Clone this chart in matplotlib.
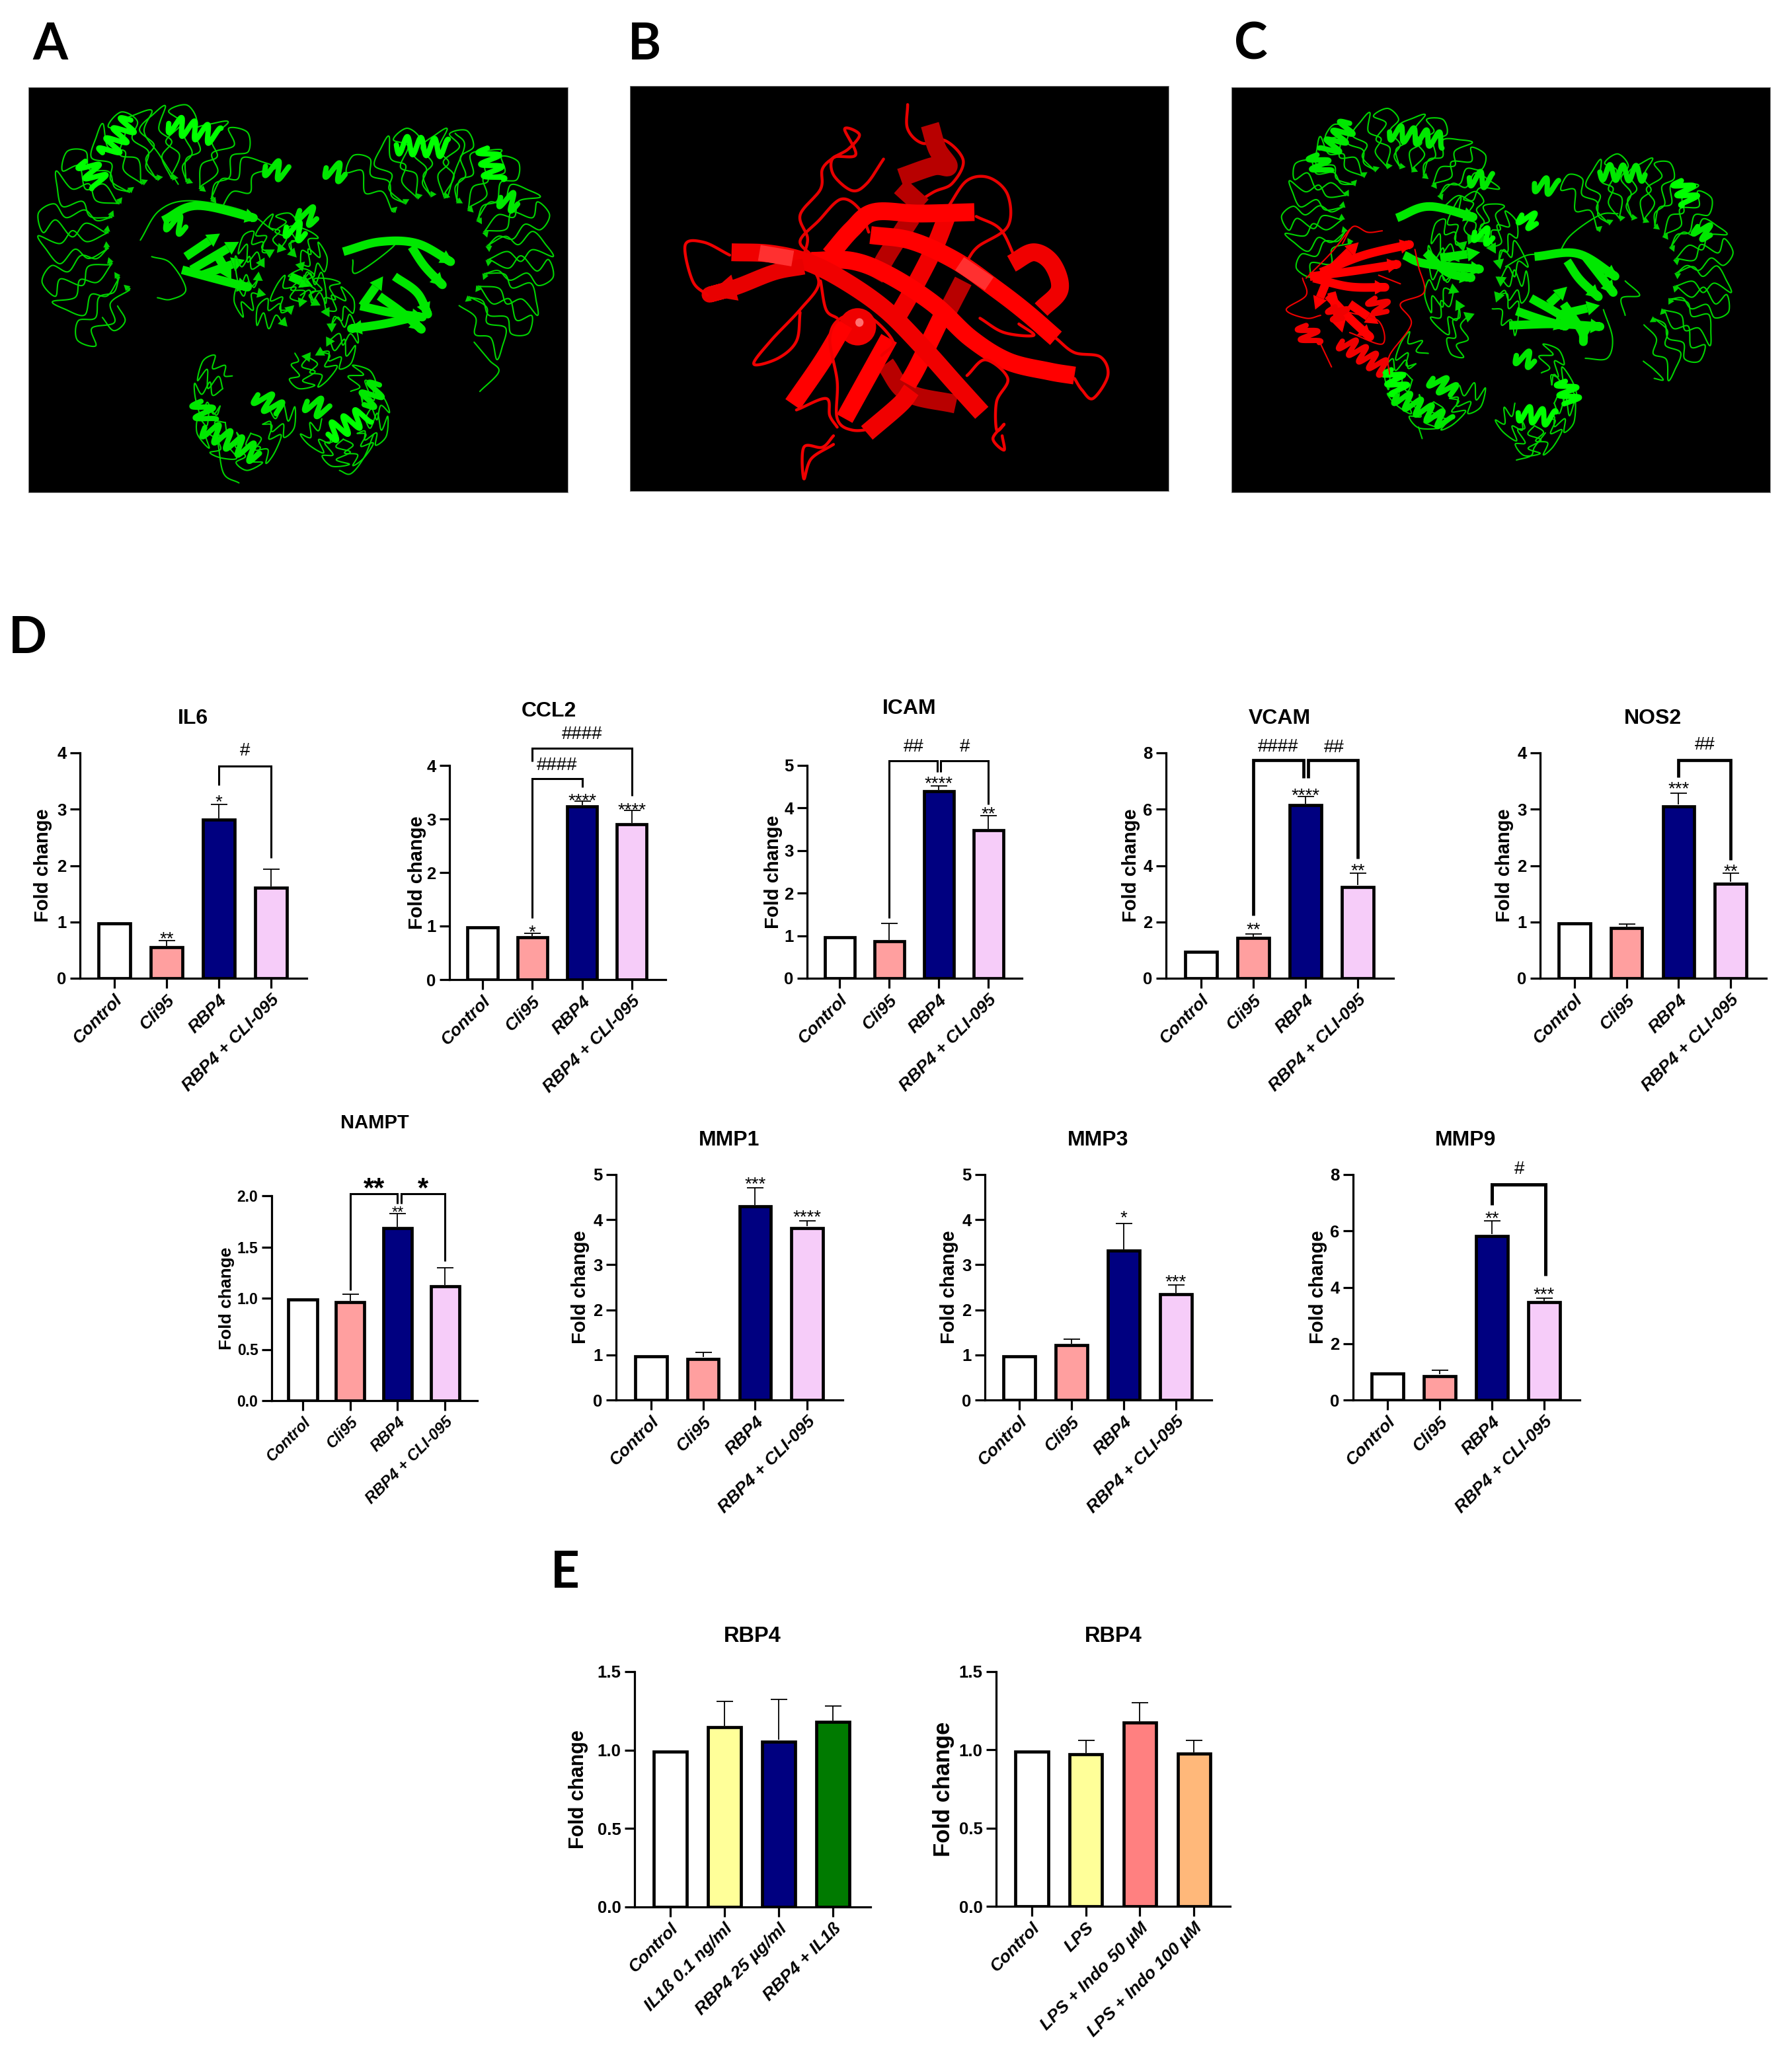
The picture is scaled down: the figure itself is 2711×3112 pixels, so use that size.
import matplotlib
matplotlib.use('Agg')
import matplotlib.pyplot as plt
import numpy as np
from matplotlib.patches import Ellipse, Polygon

plt.rcParams['font.family'] = ['Liberation Sans', 'DejaVu Sans']

W, H = 2711, 3112
PX = 0.72  # one pixel in points at dpi 100

# ---------- chart data ----------
d_groups = ['Control', 'Cli95', 'RBP4', 'RBP4 + CLI-095']
e1_groups = ['Control', 'IL1ß 0.1 ng/ml', 'RBP4 25 µg/ml', 'RBP4 + IL1ß']
e2_groups = ['Control', 'LPS', 'LPS + Indo 50 µM', 'LPS + Indo 100 µM']

d_colors = ['white', '#FF9F9F', '#000080', '#F6CCF9']
e1_colors = ['white', '#FFFF99', '#000080', '#007A00']
e2_colors = ['white', '#FFFF99', '#FF8080', '#FFB87A']

il6_values = [1, 0.58, 2.84, 1.63]
il6_err = [0, 0.09, 0.25, 0.30]
ccl2_values = [1, 0.82, 3.26, 2.93]
ccl2_err = [0, 0.05, 0.07, 0.225]
icam_values = [1, 0.90, 4.43, 3.51]
icam_err = [0, 0.385, 0.09, 0.31]
vcam_values = [1, 1.48, 6.19, 3.30]
vcam_err = [0, 0.10, 0.27, 0.43]
nos2_values = [1, 0.915, 3.08, 1.71]
nos2_err = [0, 0.05, 0.21, 0.15]
nampt_values = [1, 0.975, 1.70, 1.13]
nampt_err = [0, 0.065, 0.125, 0.17]
mmp1_values = [1, 0.95, 4.33, 3.85]
mmp1_err = [0, 0.10, 0.38, 0.13]
mmp3_values = [1, 1.25, 3.35, 2.38]
mmp3_err = [0, 0.10, 0.57, 0.165]
mmp9_values = [1, 0.91, 5.88, 3.53]
mmp9_err = [0, 0.15, 0.48, 0.09]
rbp4a_values = [1, 1.155, 1.065, 1.19]
rbp4a_err = [0, 0.155, 0.26, 0.09]
rbp4b_values = [1, 0.98, 1.185, 0.985]
rbp4b_err = [0, 0.08, 0.115, 0.075]

# significance marks above bars: x, y, text
il6_stars = [(1, 0.79, '**'), (2, 3.22, '*')]
ccl2_stars = [(1, 0.98, '*'), (2, 3.44, '****'), (3, 3.27, '****')]
icam_stars = [(2, 4.70, '****'), (3, 3.98, '**')]
vcam_stars = [(1, 1.91, '**'), (2, 6.68, '****'), (3, 4.01, '**')]
nos2_stars = [(2, 3.46, '***'), (3, 1.99, '**')]
nampt_stars = [(2.01, 1.877, '**')]
mmp1_stars = [(2, 4.90, '***'), (3, 4.17, '****')]
mmp3_stars = [(2, 4.16, '*'), (3, 2.74, '***')]
mmp9_stars = [(2, 6.64, '**'), (3, 3.93, '***')]

# brackets: x1, x2, top, left end, right end, label, label x, label y
il6_brackets = [(2, 3, 3.765, 3.42, 2.13, '#', 2.5, 4.07)]
ccl2_brackets = [(1, 2, 3.75, 1.15, 3.59, '####', 1.5, 4.04),
                 (1, 3, 4.32, 4.07, 3.43, '####', 2.0, 4.62)]
icam_brackets = [(1, 1.97, 5.11, 1.41, 4.85, '##', 1.5, 5.48),
                 (2.04, 3, 5.11, 4.85, 4.09, '#', 2.53, 5.48)]
vcam_brackets = [(1, 1.96, 7.75, 2.22, 7.11, '####', 1.47, 8.28),
                 (2.05, 3, 7.75, 7.11, 4.25, '##', 2.55, 8.25)]
nos2_brackets = [(2, 3, 3.87, 3.57, 2.10, '##', 2.5, 4.18)]
nampt_brackets = [(1, 2.0, 2.02, 1.08, 1.92, '**', 1.51, 2.146),
                  (2.08, 3, 2.02, 1.92, 1.36, '*', 2.54, 2.146)]
mmp9_brackets = [(2, 3.03, 7.65, 6.91, 4.41, '#', 2.52, 8.25)]

# ---------- protein cartoons, points read in crop coordinates ----------
a_coils = [[(1265, 1190), (1315, 1130), (1290, 1095), (1250, 1040)],
           [(630, 1468), (590, 1440), (575, 1350)],
           [(895, 1430), (925, 1440), (960, 1390), (985, 1320)],
           [(915, 770), (1000, 740), (1040, 745), (940, 830), (930, 790)],
           [(370, 730), (420, 640), (500, 610), (640, 640), (720, 700)],
           [(415, 905), (450, 910), (490, 880), (450, 800), (400, 780)],
           [(270, 965), (300, 1005), (330, 975), (310, 930)],
           [(340, 355), (400, 335), (380, 400), (420, 470), (470, 560)],
           [(1200, 405), (1225, 440), (1200, 520), (1180, 600)]]
a_helices = [[(345, 365), (280, 470)], [(445, 375), (575, 415)], [(225, 490), (265, 560)],
             [(700, 505), (755, 525)], [(1045, 440), (1180, 450)], [(1285, 450), (1305, 550)],
             [(1320, 600), (1365, 620)], [(860, 510), (910, 530)], [(790, 640), (835, 665)],
             [(755, 690), (805, 710)], [(540, 1300), (680, 1385)], [(530, 1220), (545, 1280)],
             [(810, 1220), (860, 1250)], [(865, 1320), (965, 1260)], [(960, 1230), (1000, 1170)],
             [(680, 1200), (735, 1250)], [(440, 670), (490, 690)]]
a_strands = [[(490, 780), (580, 710)], [(505, 820), (630, 735)], [(535, 835), (645, 790)],
             [(480, 820), (560, 845), (660, 875)], [(575, 780), (610, 850)], [(430, 670), (520, 625), (680, 665)],
             [(905, 765), (1000, 735), (1100, 740), (1195, 800)], [(1085, 750), (1120, 810), (1170, 870)],
             [(955, 930), (1010, 840)], [(1040, 840), (1100, 890), (1130, 960)],
             [(1000, 900), (1060, 950), (1115, 1005)], [(1090, 965), (1010, 985), (920, 1000)],
             [(950, 930), (1030, 950), (1120, 965)], [(765, 840), (825, 870)]]

b_coils = [[(790, 135), (790, 220), (830, 270), (890, 260), (940, 330), (910, 410), (860, 440), (800, 490)],
           [(725, 325), (680, 410), (640, 435), (590, 380), (590, 320), (650, 310), (620, 220),
            (660, 240), (630, 290), (590, 320), (560, 360), (555, 430), (500, 520), (520, 600), (510, 660)],
           [(685, 580), (660, 500), (610, 465), (550, 540), (500, 610), (530, 660)],
           [(900, 490), (950, 400), (1010, 390), (1060, 450), (1060, 560), (980, 630), (950, 680)],
           [(975, 525), (1040, 570), (1080, 670)],
           [(310, 660), (240, 615), (190, 625), (210, 750), (250, 800)],
           [(520, 680), (550, 760), (500, 850), (420, 960), (375, 1040), (440, 1020), (490, 960), (500, 860)],
           [(555, 750), (570, 850), (600, 880)],
           [(720, 1010), (750, 960), (680, 870), (610, 880), (580, 950), (600, 1100), (600, 1230),
            (640, 1270), (700, 1260), (760, 1210)],
           [(950, 1080), (1000, 1025), (1060, 1090), (1030, 1170), (1030, 1270), (1050, 1250),
            (1020, 1300), (1050, 1340), (1045, 1290)],
           [(1190, 950), (1240, 1000), (1310, 1015), (1330, 1080), (1290, 1160), (1260, 1130), (1240, 1090)],
           [(490, 1200), (570, 1160), (580, 1220), (600, 1260)],
           [(590, 1290), (560, 1330), (510, 1330), (510, 1440), (530, 1370), (590, 1320)],
           [(985, 880), (1050, 930), (1130, 940), (1090, 900)]]
b_dark_strands = [[(770, 390), (860, 350), (900, 350), (870, 290), (850, 205)],
                  [(770, 420), (830, 490)], [(730, 1040), (790, 1140), (920, 1180)],
                  [(940, 750), (880, 900)], [(800, 530), (740, 650), (700, 740)]]
b_strands = [[(900, 510), (860, 640), (800, 790), (760, 880)], [(880, 880), (820, 1040), (790, 1110)],
             [(970, 510), (820, 515), (700, 510), (640, 570), (580, 660)],
             [(1070, 690), (1130, 650), (1180, 690), (1200, 780), (1150, 850)],
             [(480, 1180), (560, 1030), (620, 900)], [(620, 1230), (680, 1090), (740, 950)],
             [(680, 1280), (770, 1180), (800, 1130)],
             [(690, 590), (800, 610), (920, 680), (1030, 780), (1110, 860), (1190, 950)],
             [(530, 680), (640, 680), (740, 730), (860, 830), (960, 950), (1060, 1030), (1170, 1065), (1240, 1080)],
             [(315, 650), (420, 655), (520, 685), (620, 750), (730, 850), (830, 980), (920, 1110), (990, 1210)]]
b_arrow = [(510, 700), (430, 720), (330, 770), (250, 800)]
b_lights = [[(390, 652), (480, 672)], [(930, 690), (1010, 760)]]

c_helices = [[(350, 200), (290, 300)], [(460, 230), (610, 260)], [(260, 310), (275, 370)],
             [(680, 390), (740, 400)], [(1040, 370), (1165, 375)], [(1265, 400), (1290, 480)],
             [(1310, 560), (1345, 590)], [(860, 410), (920, 425)], [(825, 520), (865, 550)],
             [(695, 580), (745, 600)], [(480, 1150), (620, 1245)], [(465, 1060), (490, 1140)],
             [(580, 1090), (635, 1140)], [(810, 1010), (860, 1030)], [(815, 1210), (915, 1230)],
             [(945, 1100), (960, 1175)]]
c_strands = [[(860, 665), (980, 655), (1090, 740)], [(950, 680), (985, 745), (1040, 810)],
             [(1000, 665), (1040, 730), (1080, 795)], [(790, 905), (920, 900), (1050, 910)],
             [(850, 810), (920, 860), (985, 910)], [(900, 830), (950, 770)],
             [(920, 870), (1040, 835)], [(810, 855), (880, 885), (950, 910)],
             [(940, 830), (990, 925), (995, 965)], [(500, 660), (560, 690), (720, 710)],
             [(560, 650), (620, 720), (690, 740)], [(600, 670), (710, 650)], [(480, 530), (570, 490), (700, 530)]]
c_coils = [[(810, 1375), (850, 1360), (860, 1330), (890, 1280)], [(550, 1300), (540, 1260)],
           [(925, 660), (960, 590), (1040, 520), (1090, 515)], [(780, 700), (840, 660), (900, 660)],
           [(1110, 870), (1100, 810), (1150, 800), (1110, 750)], [(1000, 1020), (1060, 1020), (1075, 950), (1050, 850)],
           [(1190, 1090), (1215, 1095), (1190, 1060), (1160, 1030)]]
c_red_strands = [[(270, 720), (390, 660), (525, 620)], [(240, 735), (360, 715), (490, 690)],
                 [(250, 740), (350, 770), (455, 772)], [(290, 720), (375, 615)],
                 [(290, 740), (255, 850)], [(290, 800), (350, 880), (410, 950)],
                 [(350, 830), (430, 900)], [(300, 790), (330, 930)]]
c_red_helices = [[(330, 960), (450, 1060)], [(230, 905), (245, 970)], [(420, 810), (445, 860)], [(310, 840), (330, 880)]]
c_red_coils = [[(330, 620), (360, 560), (400, 580), (440, 575)],
               [(530, 640), (540, 700), (555, 790), (490, 830), (520, 900), (460, 1010), (460, 1075)],
               [(220, 740), (230, 800), (175, 850), (230, 880), (270, 870)],
               [(270, 970), (300, 1050)], [(350, 860), (430, 890), (440, 970), (350, 930)],
               [(230, 740), (300, 650), (350, 570)], [(430, 730), (490, 760)]]


def smooth(pts, n=14):
    # Catmull-Rom through the read points
    p = np.array(pts, dtype=float)
    if len(p) < 3:
        return p[:, 0], p[:, 1]
    p = np.vstack([2 * p[0] - p[1], p, 2 * p[-1] - p[-2]])
    t = np.linspace(0, 1, n, endpoint=False)[:, None]
    out = []
    for i in range(1, len(p) - 2):
        a, b, c, d = p[i - 1], p[i], p[i + 1], p[i + 2]
        out.append(0.5 * (2 * b + (c - a) * t + (2 * a - 5 * b + 4 * c - d) * t ** 2 + (3 * b - a - 3 * c + d) * t ** 3))
    out = np.vstack(out + [p[-2][None]])
    return out[:, 0], out[:, 1]


def coil(ax, pts, color, lw=1.5):
    x, y = smooth(pts)
    ax.plot(x, y, color=color, lw=lw, solid_capstyle='round')


def strand(ax, pts, color, width, arrow=True, head_k=1.5):
    # thick band with an arrow head at the last point
    x, y = smooth(pts)
    if arrow and len(x) > 4:
        dx, dy = x[-1] - x[-5], y[-1] - y[-5]
    else:
        dx, dy = x[-1] - x[0], y[-1] - y[0]
    bb = ax.get_window_extent()
    sx = bb.width / abs(ax.get_xlim()[1] - ax.get_xlim()[0])
    sy = bb.height / abs(ax.get_ylim()[1] - ax.get_ylim()[0])
    ln = np.hypot(dx * sx, dy * sy) or 1
    ux, uy = dx * sx / ln, dy * sy / ln
    head = width * head_k
    if arrow:
        ex, ey = x[-1] - ux * head / sx, y[-1] - uy * head / sy
        x = np.append(x[:-1], ex)
        y = np.append(y[:-1], ey)
    ax.plot(x, y, color=color, lw=width * PX, solid_capstyle='butt', solid_joinstyle='round')
    if arrow:
        nx, ny = -uy, ux
        tri = [(ex + nx * width * 0.85 / sx, ey + ny * width * 0.85 / sy),
               (ex - nx * width * 0.85 / sx, ey - ny * width * 0.85 / sy),
               (ex + ux * head / sx, ey + uy * head / sy)]
        ax.add_patch(Polygon(tri, color=color, lw=0))


def helix(ax, ends, color, width=8):
    (x0, y0), (x1, y1) = ends
    t = np.linspace(0, 1, 160)
    ln = np.hypot(x1 - x0, y1 - y0) or 1
    turns = max(1.5, ln / 36)
    nx, ny = -(y1 - y0) / ln, (x1 - x0) / ln
    s = 27 * np.sin(2 * np.pi * turns * t)
    ax.plot(x0 + (x1 - x0) * t + nx * s, y0 + (y1 - y0) * t + ny * s, color=color,
            lw=width * PX, solid_capstyle='round')


# one repeat of the leucine-rich solenoid: angle step, radius
REPEAT_A = [(0, .50), (.35, .68), (-.3, .78), (.25, .93), (-.2, 1.02), (.35, 1.08), (.75, .97), (.4, .85), (.9, .72), (.6, .60), (1, .50)]
REPEAT_B = [(0, .50), (-.3, .66), (.2, .76), (-.25, .90), (.3, 1.0), (.7, 1.06), (.45, .88), (.95, .78), (.5, .66), (1, .50)]


def solenoid(ax, cx, cy, rx, ry, a0, a1, n, color, arrow_w=6, dark='#00D000'):
    step = (a1 - a0) / n
    for i in range(n):
        rep = REPEAT_A if i % 2 == 0 else REPEAT_B
        pts = []
        for da, r in rep:
            a = np.radians(a0 + step * (i + da))
            pts.append((cx + rx * r * np.cos(a), cy - ry * r * np.sin(a)))
        coil(ax, pts, color)
        if arrow_w:
            a = np.radians(a0 + step * i)
            b = np.radians(a0 + step * (i + .5))
            strand(ax, [(cx + rx * .5 * np.cos(a), cy - ry * .5 * np.sin(a)),
                        (cx + rx * .5 * np.cos(b), cy - ry * .5 * np.sin(b))], dark, arrow_w)


def protein_axes(x0, x1, y0, y1, cx0, cx1, cy0, cy1):
    ax = fig.add_axes([x0 / W, 1 - y1 / H, (x1 - x0) / W, (y1 - y0) / H], facecolor='black')
    ax.set_xlim(cx0, cx1)
    ax.set_ylim(cy1, cy0)
    ax.set_xticks([])
    ax.set_yticks([])
    for s in ax.spines.values():
        s.set_color('#888888')
        s.set_linewidth(0.6)
    return ax


def bar_panel(left, right, first, step, ybot, ytop, ymax, yticks, fmt, values, err, groups, colors,
              title, title_xy, ylab_off, stars=(), brackets=(),
              tick_fs=18.5, lab_fs=21, title_fs=23, x_fs=19, br_lw=2.2, star_fs=20, hash_fs=20, big_mark=None):
    ax = fig.add_axes([left / W, 1 - ybot / H, (right - left) / W, (ybot - ytop) / H])
    x = np.arange(len(values))
    vals = np.array(values, dtype=float)
    errs = np.array(err, dtype=float)
    # the black border sits inside the read height
    half_edge = 2.3 * ymax / (ybot - ytop)
    ax.bar(x, vals - half_edge, width=0.6, color=colors, edgecolor='black', linewidth=3.4, zorder=2)
    # upper error bars only, control has none
    has = errs > 0
    ax.vlines(x[has], vals[has], vals[has] + errs[has], color='black', lw=1.3, zorder=1)
    ax.plot(x[has], vals[has] + errs[has], ls='none', marker='_', ms=25 * PX, mew=1.3, color='black', zorder=1)
    ax.set_xlim((left - first) / step, (right - first) / step)
    ax.set_ylim(0, ymax)
    for s in ['top', 'right']:
        ax.spines[s].set_visible(False)
    for s in ['left', 'bottom']:
        ax.spines[s].set_linewidth(2.3)
    ax.set_yticks(yticks)
    ax.set_yticklabels([fmt % v for v in yticks], fontsize=tick_fs, fontweight='bold')
    ax.set_xticks(x)
    ax.set_xticklabels(groups, rotation=45, ha='right', va='top', rotation_mode='anchor',
                       fontsize=x_fs, fontweight='bold', fontstyle='italic')
    ax.tick_params(axis='both', length=15 * PX, width=2.3, pad=4)
    ax.tick_params(axis='x', pad=4)
    fig.text(title_xy[0] / W, 1 - (title_xy[1] + 3) / H, title, fontsize=title_fs, fontweight='bold', ha='center', va='center')
    fig.text((left - ylab_off + 3) / W, 1 - (ybot + ytop) / 2 / H, 'Fold change', fontsize=lab_fs, fontweight='bold',
             rotation=90, ha='center', va='center')
    for sx, sy, txt in stars:
        ax.annotate(txt, (sx, sy), xytext=(0, -0.57 * star_fs), textcoords='offset points', ha='center',
                    va='baseline', fontsize=star_fs, annotation_clip=False)
    for x1, x2, top, e1, e2, lab, lx, ly in brackets:
        ax.plot([x1, x1, x2, x2], [e1, top, top, e2], color='black', lw=br_lw, clip_on=False,
                solid_joinstyle='miter', solid_capstyle='butt', zorder=3)
        if big_mark:
            ax.annotate(lab, (lx, ly), xytext=(0, -0.57 * big_mark), textcoords='offset points', ha='center',
                        va='baseline', fontsize=big_mark, fontweight='bold', annotation_clip=False)
        else:
            ax.annotate(lab, (lx, ly), xytext=(0, -0.36 * hash_fs), textcoords='offset points', ha='center',
                        va='baseline', fontsize=hash_fs, annotation_clip=False)
    return ax


fig = plt.figure(figsize=(W / 100, H / 100), dpi=100, facecolor='white')

# panel letters
for letter, lx, ly in [('A', 76, 68), ('B', 975, 68), ('C', 1892, 68), ('D', 42, 966), ('E', 855, 2380)]:
    fig.text(lx / W, 1 - ly / H, letter, fontsize=55, fontweight='bold', ha='center', va='center', family=['Lato', 'DejaVu Sans'])

G1, G2, G3 = '#00D400', '#00E800', '#00FF00'

# A
ax_a = protein_axes(43, 859, 132, 745, 75, 1497, 265, 1497)
solenoid(ax_a, 440, 730, 320, 385, 232, 28, 14, G1)
solenoid(ax_a, 1140, 770, 300, 360, 135, -62, 14, G1)
solenoid(ax_a, 645, 1225, 130, 190, 350, 120, 7, G1, arrow_w=0)
solenoid(ax_a, 905, 1260, 115, 150, 70, -170, 6, G1, arrow_w=0)
solenoid(ax_a, 740, 850, 120, 190, 210, -30, 8, G1, arrow_w=9)
solenoid(ax_a, 810, 1000, 130, 170, 170, -120, 9, G1, arrow_w=9)
for p in a_coils:
    coil(ax_a, p, G1)
for p in a_strands:
    strand(ax_a, p, G2, 13)
for p in a_helices:
    helix(ax_a, p, G3 if p[0][0] % 2 else G2)

# B
ax_b = protein_axes(953, 1768, 130, 743, 41, 1494, 70, 1483)
for p in b_coils[:4]:
    coil(ax_b, p, '#E80000', lw=3.2)
for p in b_dark_strands:
    strand(ax_b, p, '#B80000', 28, arrow=False)
ax_b.add_patch(Ellipse((655, 910), 100, 130, color='#F00000', lw=0))
ax_b.add_patch(Ellipse((660, 895), 22, 30, color='#FF7070', lw=0))
for i, p in enumerate(b_strands):
    strand(ax_b, p, '#FF0000' if i % 3 else '#F00000', 27, arrow=False)
strand(ax_b, b_arrow, '#E80000', 24, head_k=1.8)
for p in b_lights:
    strand(ax_b, p, '#FF3030', 24, arrow=False)
for p in b_coils[4:]:
    coil(ax_b, p, '#F00000', lw=3.2)

# C
ax_c = protein_axes(1863, 2678, 132, 745, 24, 1510, 74, 1488)
solenoid(ax_c, 470, 520, 285, 345, 215, 10, 14, G1)
solenoid(ax_c, 1120, 720, 270, 385, 130, -72, 14, G1)
solenoid(ax_c, 590, 1085, 135, 175, 340, 110, 6, G1, arrow_w=0)
solenoid(ax_c, 860, 1160, 110, 190, 70, -170, 6, G1, arrow_w=0)
solenoid(ax_c, 700, 740, 135, 280, 250, -50, 12, G1, arrow_w=10)
for p in c_coils:
    coil(ax_c, p, G1)
for p in c_strands:
    strand(ax_c, p, G2, 13)
for p in c_helices:
    helix(ax_c, p, G3 if p[0][0] % 2 else G2)
for p in c_red_coils:
    coil(ax_c, p, '#F00000')
for p in c_red_strands:
    strand(ax_c, p, '#FF0000', 13)
for p in c_red_helices:
    helix(ax_c, p, '#F00000')

# D, first row
bar_panel(121, 464, 173, 79, 1480, 1139, 4, [0, 1, 2, 3, 4], '%d', il6_values, il6_err, d_groups, d_colors,
          'IL6', (292, 1084), 59, il6_stars, il6_brackets)
bar_panel(680, 1007, 730, 75.3, 1482, 1158, 4, [0, 1, 2, 3, 4], '%d', ccl2_values, ccl2_err, d_groups, d_colors,
          'CCL2', (830, 1073), 52, ccl2_stars, ccl2_brackets)
bar_panel(1221, 1546, 1270, 75, 1480, 1158, 5, [0, 1, 2, 3, 4, 5], '%d', icam_values, icam_err, d_groups, d_colors,
          'ICAM', (1376, 1069), 54, icam_stars, icam_brackets)
bar_panel(1764, 2108, 1817, 79, 1480, 1139, 8, [0, 2, 4, 6, 8], '%d', vcam_values, vcam_err, d_groups, d_colors,
          'VCAM', (1936, 1084), 56, vcam_stars, vcam_brackets, br_lw=3.4)
bar_panel(2330, 2672, 2382, 78.7, 1480, 1139, 4, [0, 1, 2, 3, 4], '%d', nos2_values, nos2_err, d_groups, d_colors,
          'NOS2', (2500, 1084), 57, nos2_stars, nos2_brackets, br_lw=3.4)

# D, second row
bar_panel(411, 722, 458, 71.7, 2119, 1809, 2, [0, 0.5, 1, 1.5, 2], '%.1f', nampt_values, nampt_err, d_groups, d_colors,
          'NAMPT', (567, 1696), 71, nampt_stars, nampt_brackets, tick_fs=16.5, lab_fs=19, title_fs=21, x_fs=17,
          star_fs=17, big_mark=30)
bar_panel(932, 1275, 985, 78.7, 2118, 1777, 5, [0, 1, 2, 3, 4, 5], '%d', mmp1_values, mmp1_err, d_groups, d_colors,
          'MMP1', (1103, 1722), 57, mmp1_stars)
bar_panel(1490, 1833, 1542, 79, 2118, 1777, 5, [0, 1, 2, 3, 4, 5], '%d', mmp3_values, mmp3_err, d_groups, d_colors,
          'MMP3', (1661, 1722), 57, mmp3_stars)
bar_panel(2047, 2390, 2099, 79, 2118, 1777, 8, [0, 2, 4, 6, 8], '%d', mmp9_values, mmp9_err, d_groups, d_colors,
          'MMP9', (2217, 1722), 56, mmp9_stars, mmp9_brackets, br_lw=3.6)

# E
bar_panel(960, 1317, 1014, 82, 2885, 2529, 1.5, [0, 0.5, 1, 1.5], '%.1f', rbp4a_values, rbp4a_err, e1_groups, e1_colors,
          'RBP4', (1138, 2472), 88, lab_fs=22, title_fs=23.5)
bar_panel(1507, 1861, 1561, 81.7, 2884, 2529, 1.5, [0, 0.5, 1, 1.5], '%.1f', rbp4b_values, rbp4b_err, e2_groups, e2_colors,
          'RBP4', (1684, 2472), 83, lab_fs=25, title_fs=23.5)

fig.savefig('out.png', dpi=100, facecolor='white')
